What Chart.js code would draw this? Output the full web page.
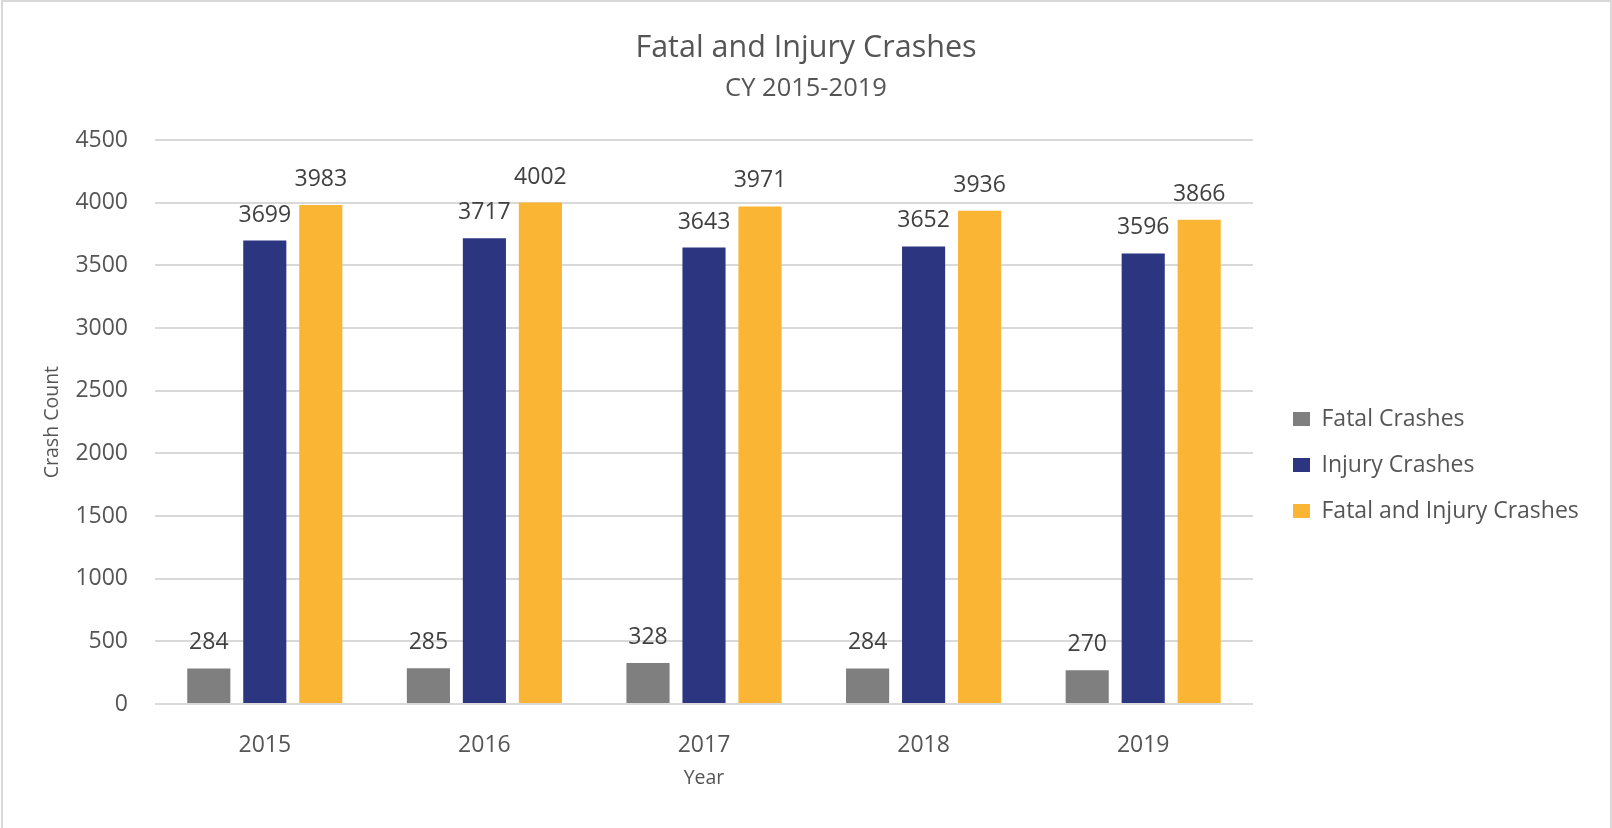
<!DOCTYPE html>
<html><head><meta charset="utf-8">
<script src="https://cdn.jsdelivr.net/npm/chart.js@4/dist/chart.umd.min.js"></script>
<style>
html,body{margin:0;padding:0;background:#fff;}
#wrap{position:relative;width:1612px;height:828px;overflow:hidden;background:#fff;}
#frame{position:absolute;left:1px;top:0px;width:1611px;height:830px;border:2px solid #d9d9d9;box-sizing:border-box;pointer-events:none;}
canvas{position:absolute;left:0;top:0;}
</style></head>
<body><div id="wrap"><canvas id="c" width="1612" height="828"></canvas><div id="frame"></div></div>
<script>
const categories = ['2015', '2016', '2017', '2018', '2019'];
const fatalCrashes = [284, 285, 328, 284, 270];
const injuryCrashes = [3699, 3717, 3643, 3652, 3596];
const fatalAndInjuryCrashes = [3983, 4002, 3971, 3936, 3866];
const seriesNames = ['Fatal Crashes', 'Injury Crashes', 'Fatal and Injury Crashes'];
const yMin = 0, yMax = 4500, yStep = 500;

const TEXT = '#555555';
Chart.defaults.font.family = "'Open Sans', sans-serif";

const valueLabels = {
  id: 'valueLabels',
  afterDatasetsDraw(chart) {
    const ctx = chart.ctx;
    ctx.save();
    ctx.font = '23px "Open Sans"';
    ctx.fillStyle = '#404040';
    ctx.textAlign = 'center';
    ctx.textBaseline = 'alphabetic';
    chart.data.datasets.forEach((ds, i) => {
      chart.getDatasetMeta(i).data.forEach((bar, j) => {
        ctx.fillText(String(ds.data[j]), bar.x, bar.y - 19);
      });
    });
    ctx.restore();
  }
};

const legendPlace = {
  id: 'legendPlace',
  beforeLayout(chart) {
    const L = chart.legend;
    if (L && !L._fixedW) {
      const f = L.fit;
      L.fit = function () { f.call(this); this.width = 359; };
      L._fixedW = true;
    }
  },
  afterLayout(chart) {
    const L = chart.legend;
    if (!L) return;
    L.left += 17; L.right += 17;
    L.top += 43; L.bottom += 43;
  }
};

new Chart(document.getElementById('c'), {
  type: 'bar',
  data: {
    labels: categories,
    datasets: [
      { label: seriesNames[0], data: fatalCrashes, backgroundColor: '#7f7f7f' },
      { label: seriesNames[1], data: injuryCrashes, backgroundColor: '#2b3580' },
      { label: seriesNames[2], data: fatalAndInjuryCrashes, backgroundColor: '#fbb535' }
    ]
  },
  options: {
    responsive: false,
    animation: false,
    devicePixelRatio: 1,
    layout: { padding: { left: 0, right: 0, top: 0, bottom: 0 } },
    datasets: { bar: { categoryPercentage: 0.765, barPercentage: 0.77 } },
    plugins: {
      title: {
        display: true, text: 'Fatal and Injury Crashes', color: TEXT,
        font: { size: 30.5, weight: 'normal' }, padding: { top: 30, bottom: 0 }
      },
      subtitle: {
        display: true, text: 'CY 2015-2019', color: TEXT,
        font: { size: 25.5, weight: 'normal' }, padding: { top: 6.5, bottom: 36.5 }
      },
      legend: {
        position: 'right', fullSize: false,
        labels: { boxWidth: 17, boxHeight: 14, color: TEXT, font: { size: 23 }, padding: 23 }
      },
      tooltip: { enabled: false }
    },
    scales: {
      x: {
        grid: { display: false },
        border: { display: false },
        ticks: { color: TEXT, font: { size: 23 }, padding: 20 },
        title: { display: true, text: 'Year', color: TEXT, font: { size: 19.5 }, padding: { top: 0, bottom: 38.3 } },
        afterFit(s) { s.height = 124; }
      },
      y: {
        min: yMin, max: yMax,
        grid: { color: '#d9d9d9', lineWidth: 2, drawTicks: false },
        border: { display: false },
        ticks: { stepSize: yStep, color: TEXT, font: { size: 23 }, padding: 27, callback: v => String(v) },
        title: { display: true, text: 'Crash Count', color: TEXT, font: { size: 19.5 }, padding: { top: 41, bottom: 0 } },
        afterFit(s) { s.width = 155; }
      }
    }
  },
  plugins: [valueLabels, legendPlace]
});
</script>
</body></html>
